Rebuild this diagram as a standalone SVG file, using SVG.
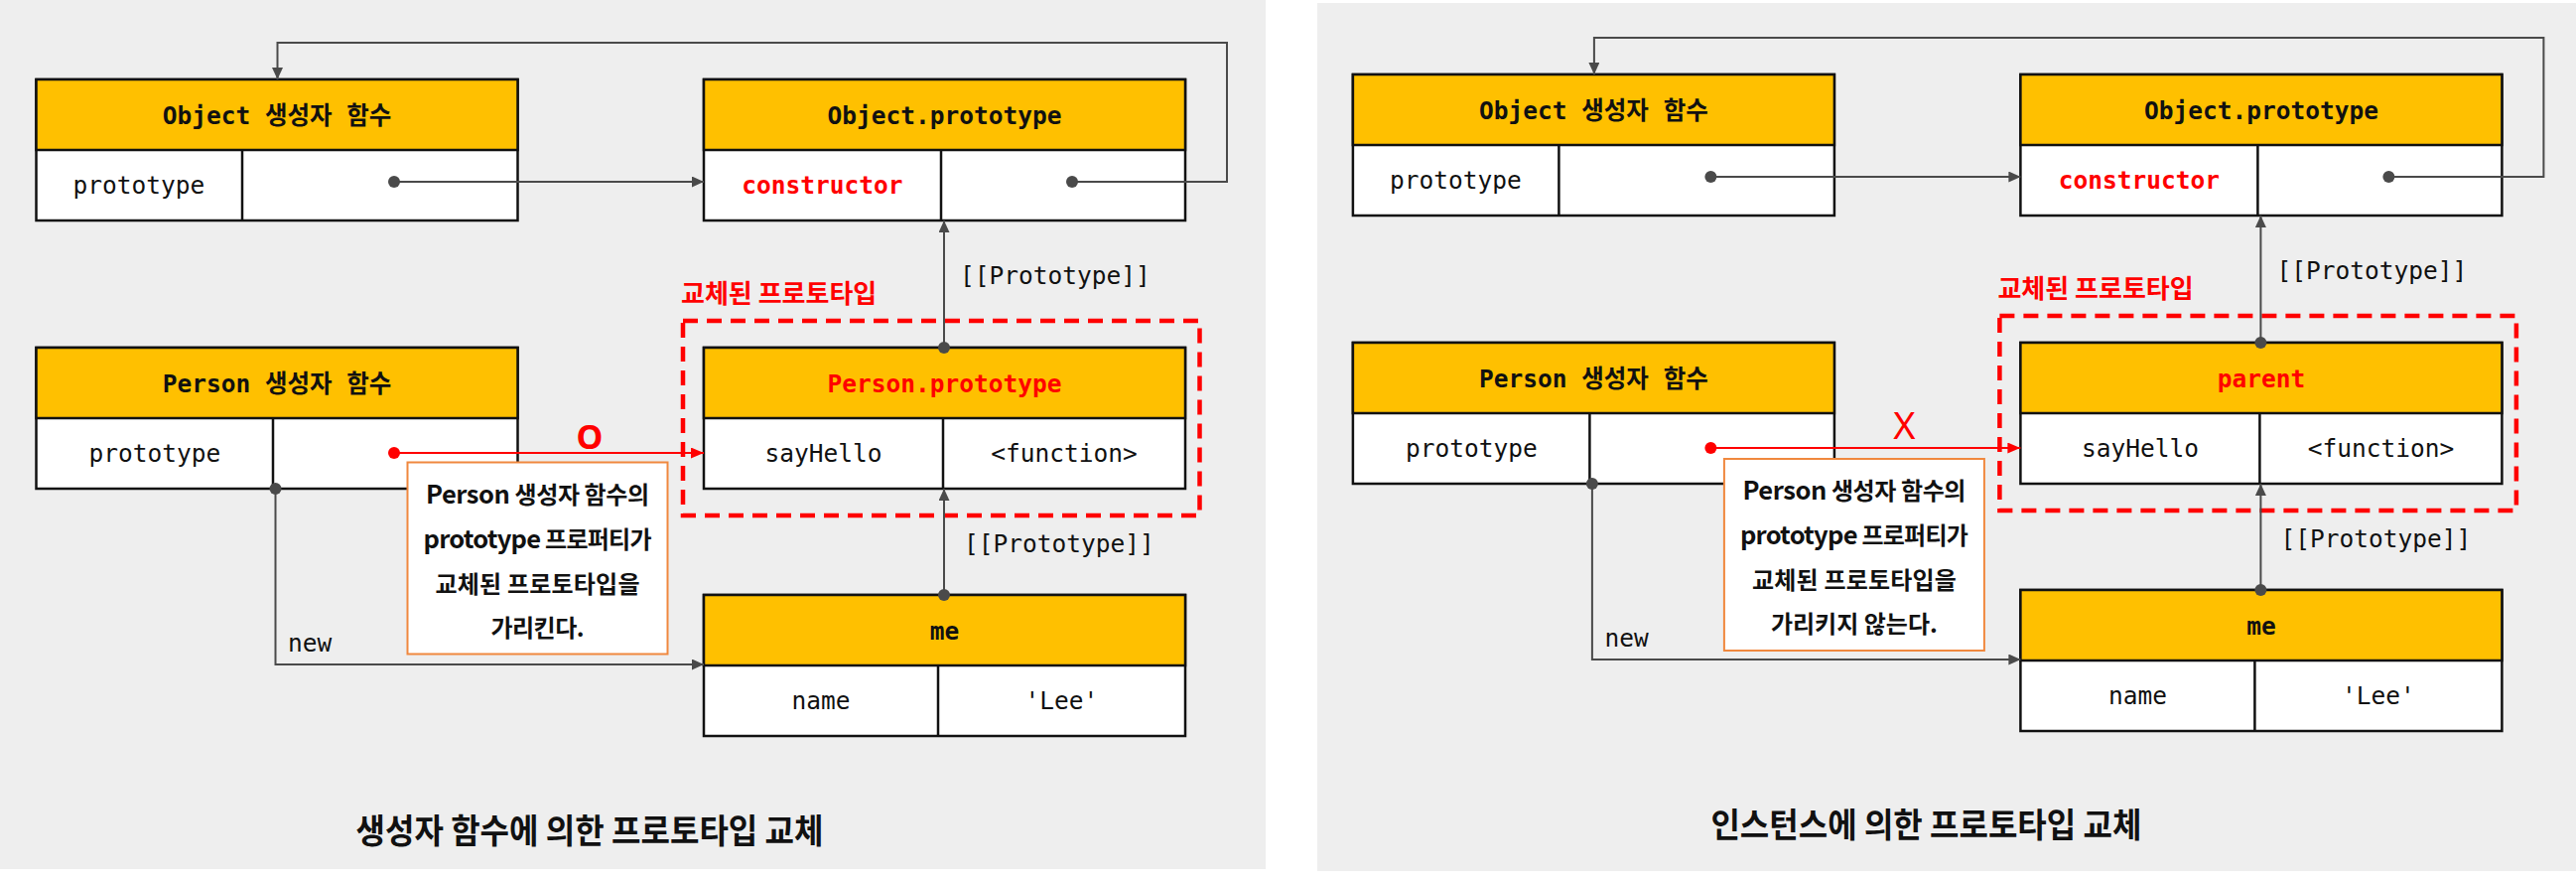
<svg xmlns="http://www.w3.org/2000/svg" width="2595" height="886" viewBox="0 0 2595 886">
<style>
.bg{fill:#EEEEEE}
.box{fill:#FFFFFF;stroke:#111111;stroke-width:2.5}
.hdr{fill:#FFC000;stroke:#111111;stroke-width:2.5}
.div{stroke:#111111;stroke-width:2.5}
.mono{font-family:"DejaVu Sans Mono","Noto Sans CJK KR",monospace;font-size:24.5px;fill:#111111}
.hb{font-weight:bold}
.c{text-anchor:middle}
.conn{fill:none;stroke:#4A4A4A;stroke-width:2}
.connr{fill:none;stroke:#FF0000;stroke-width:2}
.dot{fill:#4A4A4A}
.dotr{fill:#FF0000}
.dash{fill:none;stroke:#FF0000;stroke-width:4.5;stroke-dasharray:15 9}
.call{fill:#FFFFFF;stroke:#F0883E;stroke-width:2}
.ko{font-family:"Noto Sans CJK KR","Noto Sans",sans-serif;font-weight:bold;fill:#111111}
.ct{font-size:24px;text-anchor:middle}
.lat{font-size:25.5px}
.cap{font-size:34px;text-anchor:middle}
.red{fill:#FF0000}
</style>
<defs>
<marker id="ah" markerUnits="userSpaceOnUse" markerWidth="12" markerHeight="11" refX="12" refY="5.5" orient="auto"><path d="M0,0 L12,5.5 L0,11 z" fill="#4A4A4A"/></marker>
<marker id="ahr" markerUnits="userSpaceOnUse" markerWidth="13" markerHeight="11" refX="13" refY="5.5" orient="auto"><path d="M0,0 L13,5.5 L0,11 z" fill="#FF0000"/></marker>
</defs>

<rect class="bg" x="0" y="0" width="1275" height="875"/>
<rect class="bg" x="1327" y="3" width="1268" height="874"/>

<!-- LEFT PANEL -->
<g id="panel-left">
  <rect id="left-replaced-frame" class="dash" x="688" y="323" width="520.5" height="196"/>
  <text id="left-replaced-label" class="ko red" x="686" y="305" font-size="26">교체된 프로토타입</text>

  <g id="left-object-ctor">
    <rect class="box" x="36.5" y="80" width="485" height="142"/>
    <rect class="hdr" x="36.5" y="80" width="485" height="71"/>
    <line class="div" x1="244" y1="151" x2="244" y2="222"/>
    <text class="mono hb c" x="279" y="124.5">Object 생성자 함수</text>
    <text class="mono c" x="140" y="195">prototype</text>
  </g>
  <g id="left-object-prototype">
    <rect class="box" x="709" y="80" width="485" height="142"/>
    <rect class="hdr" x="709" y="80" width="485" height="71"/>
    <line class="div" x1="948" y1="151" x2="948" y2="222"/>
    <text class="mono hb c" x="951.5" y="124.5">Object.prototype</text>
    <text class="mono hb c red" x="828.5" y="195">constructor</text>
  </g>
  <g id="left-person-ctor">
    <rect class="box" x="36.5" y="350" width="485" height="142"/>
    <rect class="hdr" x="36.5" y="350" width="485" height="71"/>
    <line class="div" x1="275" y1="421" x2="275" y2="492"/>
    <text class="mono hb c" x="279" y="394.5">Person 생성자 함수</text>
    <text class="mono c" x="156" y="465">prototype</text>
  </g>
  <g id="left-person-prototype">
    <rect class="box" x="709" y="350" width="485" height="142"/>
    <rect class="hdr" x="709" y="350" width="485" height="71"/>
    <line class="div" x1="950" y1="421" x2="950" y2="492"/>
    <text class="mono hb c red" x="951.5" y="394.5">Person.prototype</text>
    <text class="mono c" x="829.5" y="465">sayHello</text>
    <text class="mono c" x="1072" y="465">&lt;function&gt;</text>
  </g>
  <g id="left-me">
    <rect class="box" x="709" y="599" width="485" height="142"/>
    <rect class="hdr" x="709" y="599" width="485" height="71"/>
    <line class="div" x1="945" y1="670" x2="945" y2="741"/>
    <text class="mono hb c" x="951.5" y="643.5">me</text>
    <text class="mono c" x="827" y="714">name</text>
    <text class="mono c" x="1069.5" y="714">'Lee'</text>
  </g>

  <g id="left-connectors">
    <path class="conn" d="M397,183 H709" marker-end="url(#ah)"/>
    <circle class="dot" cx="397" cy="183" r="6"/>
    <path class="conn" d="M1080,183 H1236 V43 H279.5 V80" marker-end="url(#ah)"/>
    <circle class="dot" cx="1080" cy="183" r="6"/>
    <path class="conn" d="M951,350 V222" marker-end="url(#ah)"/>
    <circle class="dot" cx="951" cy="350" r="6"/>
    <path class="conn" d="M951,599 V492" marker-end="url(#ah)"/>
    <circle class="dot" cx="951" cy="599" r="6"/>
    <path class="conn" d="M277.5,492 V669 H709" marker-end="url(#ah)"/>
    <circle class="dot" cx="277.5" cy="492" r="6"/>
    <path class="connr" d="M397,456 H709" marker-end="url(#ahr)"/>
    <circle class="dotr" cx="397" cy="456" r="6"/>
    <text class="mono" x="967" y="286">[[Prototype]]</text>
    <text class="mono" x="971" y="556">[[Prototype]]</text>
    <text class="mono" x="290" y="656">new</text>
    <text class="c red" x="594" y="451.5" font-size="34" font-weight="bold" font-family="'Noto Sans',sans-serif">O</text>
  </g>

  <g id="left-callout">
    <rect class="call" x="410.5" y="465.5" width="262" height="193"/>
    <text class="ko ct" x="541.5" y="507" textLength="225" lengthAdjust="spacing"><tspan class="lat">Person</tspan> 생성자 함수의</text>
    <text class="ko ct" x="541.5" y="552" textLength="230" lengthAdjust="spacing"><tspan class="lat">prototype</tspan> 프로퍼티가</text>
    <text class="ko ct" x="541.5" y="596.5" textLength="206" lengthAdjust="spacing">교체된 프로토타입을</text>
    <text class="ko ct" x="541.5" y="641" textLength="94" lengthAdjust="spacing">가리킨다.</text>
  </g>

  <text id="left-caption" class="ko cap" x="594" y="849" textLength="471" lengthAdjust="spacingAndGlyphs">생성자 함수에 의한 프로토타입 교체</text>
</g>

<!-- RIGHT PANEL -->
<g id="panel-right" transform="translate(1326.4,-5)">
  <rect id="right-replaced-frame" class="dash" x="688" y="323" width="520.5" height="196"/>
  <text id="right-replaced-label" class="ko red" x="686" y="305" font-size="26">교체된 프로토타입</text>

  <g id="right-object-ctor">
    <rect class="box" x="36.5" y="80" width="485" height="142"/>
    <rect class="hdr" x="36.5" y="80" width="485" height="71"/>
    <line class="div" x1="244" y1="151" x2="244" y2="222"/>
    <text class="mono hb c" x="279" y="124.5">Object 생성자 함수</text>
    <text class="mono c" x="140" y="195">prototype</text>
  </g>
  <g id="right-object-prototype">
    <rect class="box" x="709" y="80" width="485" height="142"/>
    <rect class="hdr" x="709" y="80" width="485" height="71"/>
    <line class="div" x1="948" y1="151" x2="948" y2="222"/>
    <text class="mono hb c" x="951.5" y="124.5">Object.prototype</text>
    <text class="mono hb c red" x="828.5" y="195">constructor</text>
  </g>
  <g id="right-person-ctor">
    <rect class="box" x="36.5" y="350" width="485" height="142"/>
    <rect class="hdr" x="36.5" y="350" width="485" height="71"/>
    <line class="div" x1="275" y1="421" x2="275" y2="492"/>
    <text class="mono hb c" x="279" y="394.5">Person 생성자 함수</text>
    <text class="mono c" x="156" y="465">prototype</text>
  </g>
  <g id="right-parent">
    <rect class="box" x="709" y="350" width="485" height="142"/>
    <rect class="hdr" x="709" y="350" width="485" height="71"/>
    <line class="div" x1="950" y1="421" x2="950" y2="492"/>
    <text class="mono hb c red" x="951.5" y="394.5">parent</text>
    <text class="mono c" x="829.5" y="465">sayHello</text>
    <text class="mono c" x="1072" y="465">&lt;function&gt;</text>
  </g>
  <g id="right-me">
    <rect class="box" x="709" y="599" width="485" height="142"/>
    <rect class="hdr" x="709" y="599" width="485" height="71"/>
    <line class="div" x1="945" y1="670" x2="945" y2="741"/>
    <text class="mono hb c" x="951.5" y="643.5">me</text>
    <text class="mono c" x="827" y="714">name</text>
    <text class="mono c" x="1069.5" y="714">'Lee'</text>
  </g>

  <g id="right-connectors">
    <path class="conn" d="M397,183 H709" marker-end="url(#ah)"/>
    <circle class="dot" cx="397" cy="183" r="6"/>
    <path class="conn" d="M1080,183 H1236 V43 H279.5 V80" marker-end="url(#ah)"/>
    <circle class="dot" cx="1080" cy="183" r="6"/>
    <path class="conn" d="M951,350 V222" marker-end="url(#ah)"/>
    <circle class="dot" cx="951" cy="350" r="6"/>
    <path class="conn" d="M951,599 V492" marker-end="url(#ah)"/>
    <circle class="dot" cx="951" cy="599" r="6"/>
    <path class="conn" d="M277.5,492 V669 H709" marker-end="url(#ah)"/>
    <circle class="dot" cx="277.5" cy="492" r="6"/>
    <path class="connr" d="M397,456 H709" marker-end="url(#ahr)"/>
    <circle class="dotr" cx="397" cy="456" r="6"/>
    <text class="mono" x="967" y="286">[[Prototype]]</text>
    <text class="mono" x="971" y="556">[[Prototype]]</text>
    <text class="mono" x="290" y="656">new</text>
    <text class="c red" x="592" y="446.5" font-size="38" font-family="'Noto Sans',sans-serif">X</text>
  </g>

  <g id="right-callout">
    <rect class="call" x="410.5" y="467" width="262" height="193"/>
    <text class="ko ct" x="541.5" y="508" textLength="225" lengthAdjust="spacing"><tspan class="lat">Person</tspan> 생성자 함수의</text>
    <text class="ko ct" x="541.5" y="553" textLength="230" lengthAdjust="spacing"><tspan class="lat">prototype</tspan> 프로퍼티가</text>
    <text class="ko ct" x="541.5" y="597.5" textLength="206" lengthAdjust="spacing">교체된 프로토타입을</text>
    <text class="ko ct" x="541.5" y="642" textLength="168" lengthAdjust="spacing">가리키지 않는다.</text>
  </g>

  <text id="right-caption" class="ko cap" x="614" y="848" textLength="434" lengthAdjust="spacingAndGlyphs">인스턴스에 의한 프로토타입 교체</text>
</g>
</svg>
